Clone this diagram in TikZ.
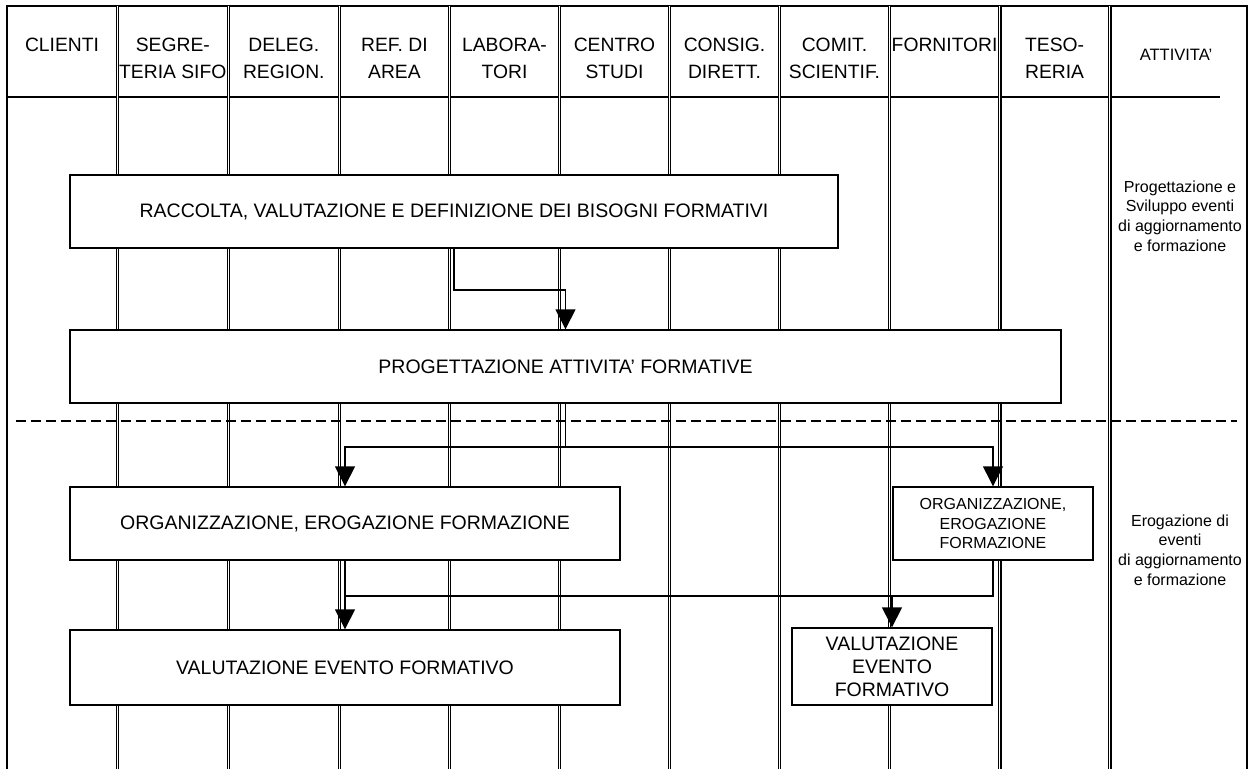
\documentclass[tikz,border=0pt]{standalone}
\usepackage{fontspec}
\setmainfont{Liberation Sans}
\usetikzlibrary{
  arrows.meta,
}

\begin{document}
\begin{tikzpicture}[
    x=1pt, y=-1pt,
    frame/.style={
        line width=1.4pt,
      },
    lane/.style={
        double, line width=1.4pt, double distance=0.8pt,
      },
    head/.style={
        anchor=north, inner sep=0pt, align=center,
        font=\fontsize{19.3}{27}\selectfont,
      },
    box/.style={
        rectangle, draw=black, fill=white, line width=1.4pt,
        inner sep=0pt, align=center,
        font=\fontsize{19.5}{23}\selectfont,
      },
    note/.style={
        inner sep=0pt, align=center,
        font=\fontsize{16}{19.6}\selectfont,
      },
    arr/.style={
        line width=1.4pt, -{Triangle[length=20pt, width=20pt]},
      }
  ]
  \useasboundingbox (0,0) rectangle (1257,769);

  \draw[frame] (7,769) -- (7,6) -- (1247,6) -- (1247,769);
  \draw[frame] (7,97) -- (1220,97);
  \foreach \x in {117.3,228.3,339.3,449.5,559.5,669.5,779.5,889.5,999.7,1109.7}
    \draw[lane] (\x,6) -- (\x,769);

  \foreach \i/\x/\n in {
      1/62/CLIENTI,
      2/172.8/SEGRE-\\TERIA SIFO,
      3/283.8/DELEG.\\REGION.,
      4/394.4/REF. DI\\AREA,
      5/504.5/LABORA-\\TORI,
      6/614.5/CENTRO\\STUDI,
      7/724.5/CONSIG.\\DIRETT.,
      8/834.5/COMIT.\\SCIENTIF.,
      9/944.6/FORNITORI,
      10/1054.6/TESO-\\RERIA
    }{
      \node[head] (h\i) at (\x,38) {\n};
    }
  \node[note, font=\fontsize{16.5}{20}\selectfont] (h11) at (1176,55) {ATTIVITA’};

  \node[note] (n1) at (1180,216) {Progettazione e\\Sviluppo eventi\\di aggiornamento\\e formazione};
  \node[note] (n2) at (1180,550) {Erogazione di\\eventi\\di aggiornamento\\e formazione};

  \draw[line width=1.5pt, dash pattern=on 10pt off 5pt] (16,421) -- (1237,421);

  \node[box, minimum width=768, minimum height=73] (rac) at (454,211.5)
    {RACCOLTA, VALUTAZIONE E DEFINIZIONE DEI BISOGNI FORMATIVI};
  \node[box, minimum width=991, minimum height=73] (prog) at (565.5,366.5)
    {PROGETTAZIONE ATTIVITA’ FORMATIVE};
  \node[box, minimum width=550, minimum height=73] (orgL) at (345,523.5)
    {ORGANIZZAZIONE, EROGAZIONE FORMAZIONE};
  \node[box, minimum width=200, minimum height=73, font=\fontsize{16}{19.5}\selectfont] (orgR) at (993,523.5)
    {ORGANIZZAZIONE,\\EROGAZIONE\\FORMAZIONE};
  \node[box, minimum width=550, minimum height=75] (valL) at (345,667.5)
    {VALUTAZIONE EVENTO FORMATIVO};
  \node[box, minimum width=200, minimum height=77] (valR) at (892,666.5)
    {VALUTAZIONE\\EVENTO\\FORMATIVO};

  \draw[arr] (rac) -- ++(0,78.5) -| (prog);
  \draw[arr] (prog) -- ++(0,80.5) coordinate (split) -| (orgL);
  \draw[arr] (split) -| (orgR);
  \draw[arr] (orgL) -- (valL);
  \draw[frame] (orgR) -- ++(0,72.5) coordinate (merge) -- (merge -| orgL);
  \draw[arr] (merge -| valR) -- (valR);
\end{tikzpicture}
\end{document}
